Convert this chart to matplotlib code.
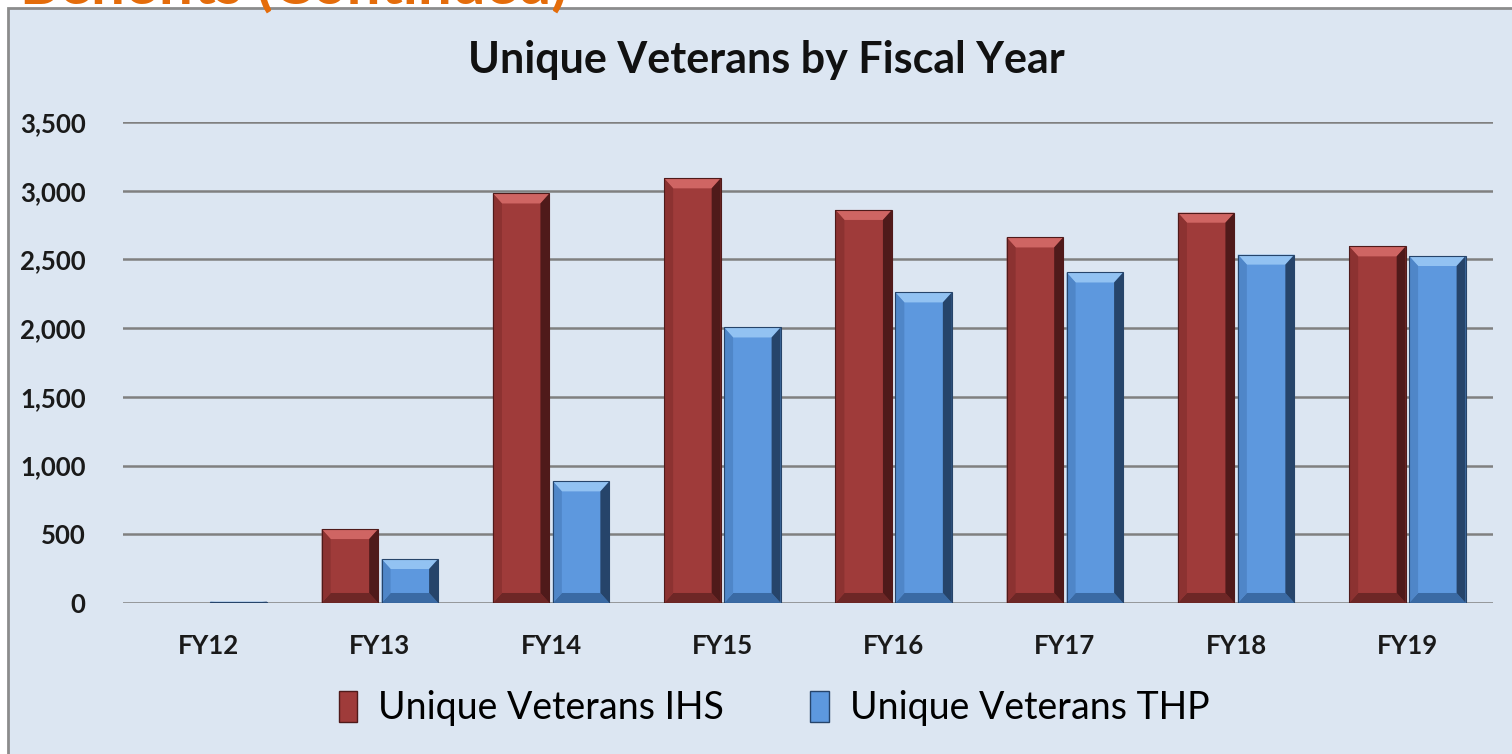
import matplotlib.pyplot as plt
from matplotlib.patches import Rectangle, Polygon, Patch
import numpy as np

plt.rcParams['font.family'] = ['Lato', 'DejaVu Sans']

years = ['FY12', 'FY13', 'FY14', 'FY15', 'FY16', 'FY17', 'FY18', 'FY19']
ihs = [0, 538, 2980, 3090, 2860, 2660, 2840, 2595]
thp = [10, 320, 885, 2005, 2260, 2405, 2535, 2525]

bg = '#dce6f2'
red = {'face': '#9f3b3a', 'top': '#cf6563', 'left': '#8c3231', 'right': '#4f1a1a', 'bottom': '#6e2726'}
blue = {'face': '#5d98de', 'top': '#92c2f2', 'left': '#4f86c8', 'right': '#26446a', 'bottom': '#3a6aa4'}

fig = plt.figure(figsize=(15.12, 7.54), dpi=100, facecolor='white')

# chart frame (slide crop)
fig.patches.append(Rectangle((8 / 1512, -0.1), 1.2, 1.1 - 8 / 754, transform=fig.transFigure,
                             facecolor=bg, edgecolor='#8c8c8c', linewidth=2, zorder=-10))
fig.text(20 / 1512, 1 - 5 / 754, 'Benefits (Continued)', fontsize=43, fontweight='bold',
         color='#e46c0a', va='baseline', ha='left')

ax = fig.add_axes([123 / 1512, 1 - 603 / 754, 1370 / 1512, 481 / 754])
ax.set_facecolor(bg)
ax.patch.set_alpha(0)

x = np.arange(len(years))
w = 0.33
b1 = ax.bar(x - 0.175, ihs, w, color=red['face'], zorder=3)
b2 = ax.bar(x + 0.175, thp, w, color=blue['face'], zorder=3)

ax.set_xlim(-0.5, 7.5)
ax.set_ylim(0, 3500)


def bevel(bars, c):
    # pixel bevel converted to data units
    bx = 9 / 171.25
    for r in bars:
        x0, w0, h = r.get_x(), r.get_width(), r.get_height()
        if h <= 0:
            continue
        by = min(10 / 0.1374, h / 2)
        x1 = x0 + w0
        pieces = [
            ([(x0, h), (x1, h), (x1 - bx, h - by), (x0 + bx, h - by)], c['top']),
            ([(x0, 0), (x1, 0), (x1 - bx, by), (x0 + bx, by)], c['bottom']),
            ([(x0, 0), (x0, h), (x0 + bx, h - by), (x0 + bx, by)], c['left']),
            ([(x1, 0), (x1, h), (x1 - bx, h - by), (x1 - bx, by)], c['right']),
        ]
        for pts, col in pieces:
            ax.add_patch(Polygon(pts, closed=True, facecolor=col, edgecolor='none', zorder=4))
        ax.add_patch(Rectangle((x0, 0), w0, h, facecolor='none', edgecolor=c['right'],
                               linewidth=0.8, zorder=5))


bevel(b1, red)
bevel(b2, blue)

ax.set_yticks(np.arange(0, 3501, 500))
ax.set_yticklabels([f'{v:,}' for v in range(0, 3501, 500)])
ax.yaxis.grid(True, color='#808080', linewidth=1.8, zorder=1)
ax.set_axisbelow(True)
for s in ax.spines.values():
    s.set_visible(False)
ax.tick_params(axis='y', length=0, pad=27, labelsize=18.5)
ax.tick_params(axis='x', length=0, pad=22, labelsize=18.5)
ax.set_xticks(x)
ax.set_xticklabels(years)
for lab in ax.get_xticklabels() + ax.get_yticklabels():
    lab.set_fontweight('bold')
    lab.set_color('#1a1a1a')

fig.text(766 / 1512, 1 - 60 / 754, 'Unique Veterans by Fiscal Year', fontsize=31,
         fontweight='bold', ha='center', va='center', color='#111111')

handles = [Patch(facecolor=red['face'], edgecolor=red['right'], label='Unique Veterans IHS'),
           Patch(facecolor=blue['face'], edgecolor=blue['right'], label='Unique Veterans THP')]
fig.legend(handles=handles, loc='center', bbox_to_anchor=(774 / 1512, 1 - 708 / 754), ncol=2,
           frameon=False, fontsize=27, handlelength=0.5, handleheight=0.9, handletextpad=0.55,
           columnspacing=2.3)

fig.savefig('out.png', dpi=100, facecolor='white')
